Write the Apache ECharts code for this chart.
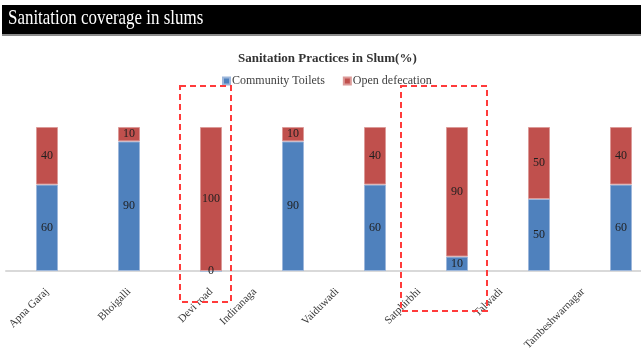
<!DOCTYPE html>
<html>
<head>
<meta charset="utf-8">
<script src="https://cdn.jsdelivr.net/npm/echarts@6/dist/echarts.min.js"></script>
<style>
  html, body { margin: 0; padding: 0; background: #fff; overflow: hidden; }
  /* a bit wider than the window: the last bar slot runs past the right edge */
  #main { width: 662px; height: 357px; }
</style>
</head>
<body>
<div id="main"></div>
<script>
// slum names along the x axis
var slums = ['Apna Garaj', 'Bhoigalli', 'Devi road', 'Indiranaga', 'Vaiduwadi', 'Satphirbhi', 'Talwadi', 'Tambeshwarnagar'];
// percentages
var communityToilets = [60, 90, 0, 90, 60, 10, 50, 60];
var openDefecation = [40, 10, 100, 10, 40, 90, 50, 40];

var serif = '"Liberation Serif", "DejaVu Serif", serif';
var labelStyle = {
  show: true,
  position: 'inside',
  color: '#1f1f1f',
  fontSize: 12,
  fontFamily: serif
};
var axisText = {
  interval: 0,
  rotate: 45,
  margin: 19,
  color: '#3a3a3a',
  fontSize: 11,
  fontFamily: serif
};

var chart = echarts.init(document.getElementById('main'));
var option = {
  animation: false,
  title: {
    text: 'Sanitation Practices in Slum(%)',
    left: 238,
    top: 52,
    padding: 0,
    textStyle: { color: '#333', fontSize: 13, fontWeight: 'bold', fontFamily: serif }
  },
  legend: {
    top: 75,
    left: 222,
    padding: 0,
    icon: 'rect',
    itemWidth: 7,
    itemHeight: 7,
    itemGap: 18,
    textStyle: { color: '#404040', fontSize: 12, fontFamily: serif, padding: [0, 0, 0, -3] },
    data: ['Community Toilets', 'Open defecation']
  },
  // second grid (one slot shorter) only carries the shifted labels of the right-hand slums
  grid: [
    { left: 6, right: 0, top: 127, bottom: 86 },
    { left: 50, right: 38, top: 127, bottom: 86 }
  ],
  xAxis: [
    {
      type: 'category',
      gridIndex: 0,
      data: slums,
      axisLine: { lineStyle: { color: '#d9d9d9', width: 2 } },
      axisTick: { show: false },
      axisLabel: Object.assign({}, axisText, {
        formatter: function (v, i) { return i < 3 ? v : ''; }
      })
    },
    {
      type: 'category',
      gridIndex: 1,
      data: slums.slice(1),
      axisLine: { show: false },
      axisTick: { show: false },
      axisLabel: Object.assign({}, axisText, {
        formatter: function (v, i) { return i >= 2 ? v : ''; }
      })
    }
  ],
  yAxis: [
    { type: 'value', gridIndex: 0, min: 0, max: 100, show: false },
    { type: 'value', gridIndex: 1, min: 0, max: 100, show: false }
  ],
  series: [
    {
      name: 'Community Toilets',
      type: 'bar',
      stack: 'total',
      barWidth: 22,
      data: communityToilets,
      itemStyle: { color: '#4F81BD', borderColor: '#9db7db', borderWidth: 1 },
      label: labelStyle
    },
    {
      name: 'Open defecation',
      type: 'bar',
      stack: 'total',
      barWidth: 22,
      data: openDefecation,
      itemStyle: { color: '#C0504D', borderColor: '#dc9a98', borderWidth: 1 },
      label: labelStyle
    }
  ],
  graphic: [
    { type: 'rect', z: -1, shape: { x: 2, y: 5, width: 660, height: 29 }, style: { fill: '#000' } },
    { type: 'rect', z: -1, shape: { x: 2, y: 34, width: 660, height: 2 }, style: { fill: '#8c8c8c' } },
    {
      type: 'text', x: 8, y: 7, scaleX: 0.77,
      style: { text: 'Sanitation coverage in slums', fill: '#fff', font: '22px "Liberation Serif", serif' }
    },
    {
      type: 'rect', z: 10,
      shape: { x: 180, y: 86, width: 51, height: 216 },
      style: { fill: 'none', stroke: '#ff3b3b', lineWidth: 2, lineDash: [6, 4] }
    },
    {
      type: 'rect', z: 10,
      shape: { x: 401, y: 86, width: 86, height: 225 },
      style: { fill: 'none', stroke: '#ff3b3b', lineWidth: 2, lineDash: [6, 4] }
    }
  ]
};
chart.setOption(option);
</script>
</body>
</html>
